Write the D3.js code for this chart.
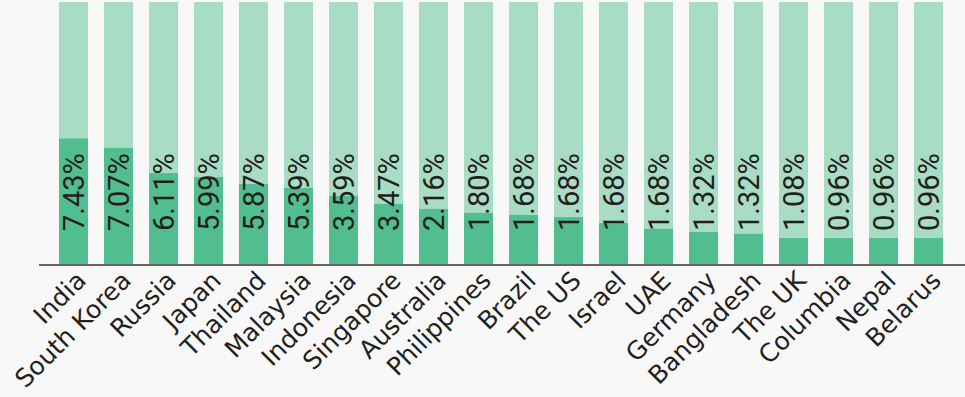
<!DOCTYPE html>
<html>
<head>
<meta charset="utf-8">
<script src="https://cdn.jsdelivr.net/npm/d3@7"></script>
<style>
  html, body { margin: 0; padding: 0; background: #f9f8f8; }
  .container { width: 965px; height: 397px; overflow: hidden; }
  .val { font-family: Roboto, sans-serif; font-size: 29px; fill: #231f20; }
  .cat { font-family: "DejaVu Sans", sans-serif; font-size: 25px; fill: #231f20; }
</style>
</head>
<body>
<div class="container"></div>
<script>
document.addEventListener('DOMContentLoaded', function(){

    // data
    const countries = ['India', 'South Korea', 'Russia', 'Japan', 'Thailand', 'Malaysia', 'Indonesia',
        'Singapore', 'Australia', 'Philippines', 'Brazil', 'The US', 'Israel', 'UAE', 'Germany',
        'Bangladesh', 'The UK', 'Columbia', 'Nepal', 'Belarus']
    const shares = [7.43, 7.07, 6.11, 5.99, 5.87, 5.39, 3.59, 3.47, 2.16, 1.80, 1.68, 1.68, 1.68, 1.68,
        1.32, 1.32, 1.08, 0.96, 0.96, 0.96]
    // height of the dark fill, as % of the full pale bar
    const fills = [47.9, 44.3, 34.7, 33.2, 30.5, 29.0, 26.0, 22.9, 21.0, 19.5, 18.7, 17.9, 15.6, 13.4,
        12.2, 11.5, 9.9, 9.9, 9.9, 9.9]

    const width = 965
    const height = 397
    const margin = {"top": 2, "bottom": 133, "left": 59, "right": 22}

    const svg = d3.select(".container")
        .append("svg")
        .attr("width", width)
        .attr("height", height)

    const x = d3.scaleBand()
        .domain(countries)
        .range([margin.left, width - margin.right])
        .paddingInner(16/45)
        .paddingOuter(0)

    const y = d3.scaleLinear()
        .domain([0, 100])
        .range([height - margin.bottom, margin.top])

    const data = countries.map((c, i) => ({name: c, share: shares[i], fill: fills[i]}))

    // pale full bars
    svg.selectAll('.bg')
        .data(data)
        .enter()
        .append('rect')
        .attr('class', 'bg')
        .attr('x', d => x(d.name))
        .attr('y', y(100))
        .attr('width', x.bandwidth())
        .attr('height', y(0) - y(100))
        .style('fill', '#a8dcc5')

    // dark fill
    svg.selectAll('.bar')
        .data(data)
        .enter()
        .append('rect')
        .attr('class', 'bar')
        .attr('x', d => x(d.name))
        .attr('y', d => y(d.fill))
        .attr('width', x.bandwidth())
        .attr('height', d => y(0) - y(d.fill))
        .style('fill', '#52bd8f')

    // value labels, rotated
    svg.selectAll('.val')
        .data(data)
        .enter()
        .append('text')
        .attr('class', 'val')
        .attr('transform', d => `translate(${x(d.name) + x.bandwidth()/2 + 10}, ${y(0) - 33}) rotate(-90)`)
        .text(d => d.share.toFixed(2) + '%')

    // baseline
    svg.append('line')
        .attr('x1', 39)
        .attr('x2', width)
        .attr('y1', y(0) + 1)
        .attr('y2', y(0) + 1)
        .style('stroke', '#666')
        .style('stroke-width', 2)

    // category labels
    svg.selectAll('.cat')
        .data(data)
        .enter()
        .append('text')
        .attr('class', 'cat')
        .attr('text-anchor', 'end')
        .attr('transform', d => `translate(${x(d.name) + x.bandwidth()/2 + 14}, ${y(0) + 18}) rotate(-45)`)
        .text(d => d.name)

});
</script>
</body>
</html>
